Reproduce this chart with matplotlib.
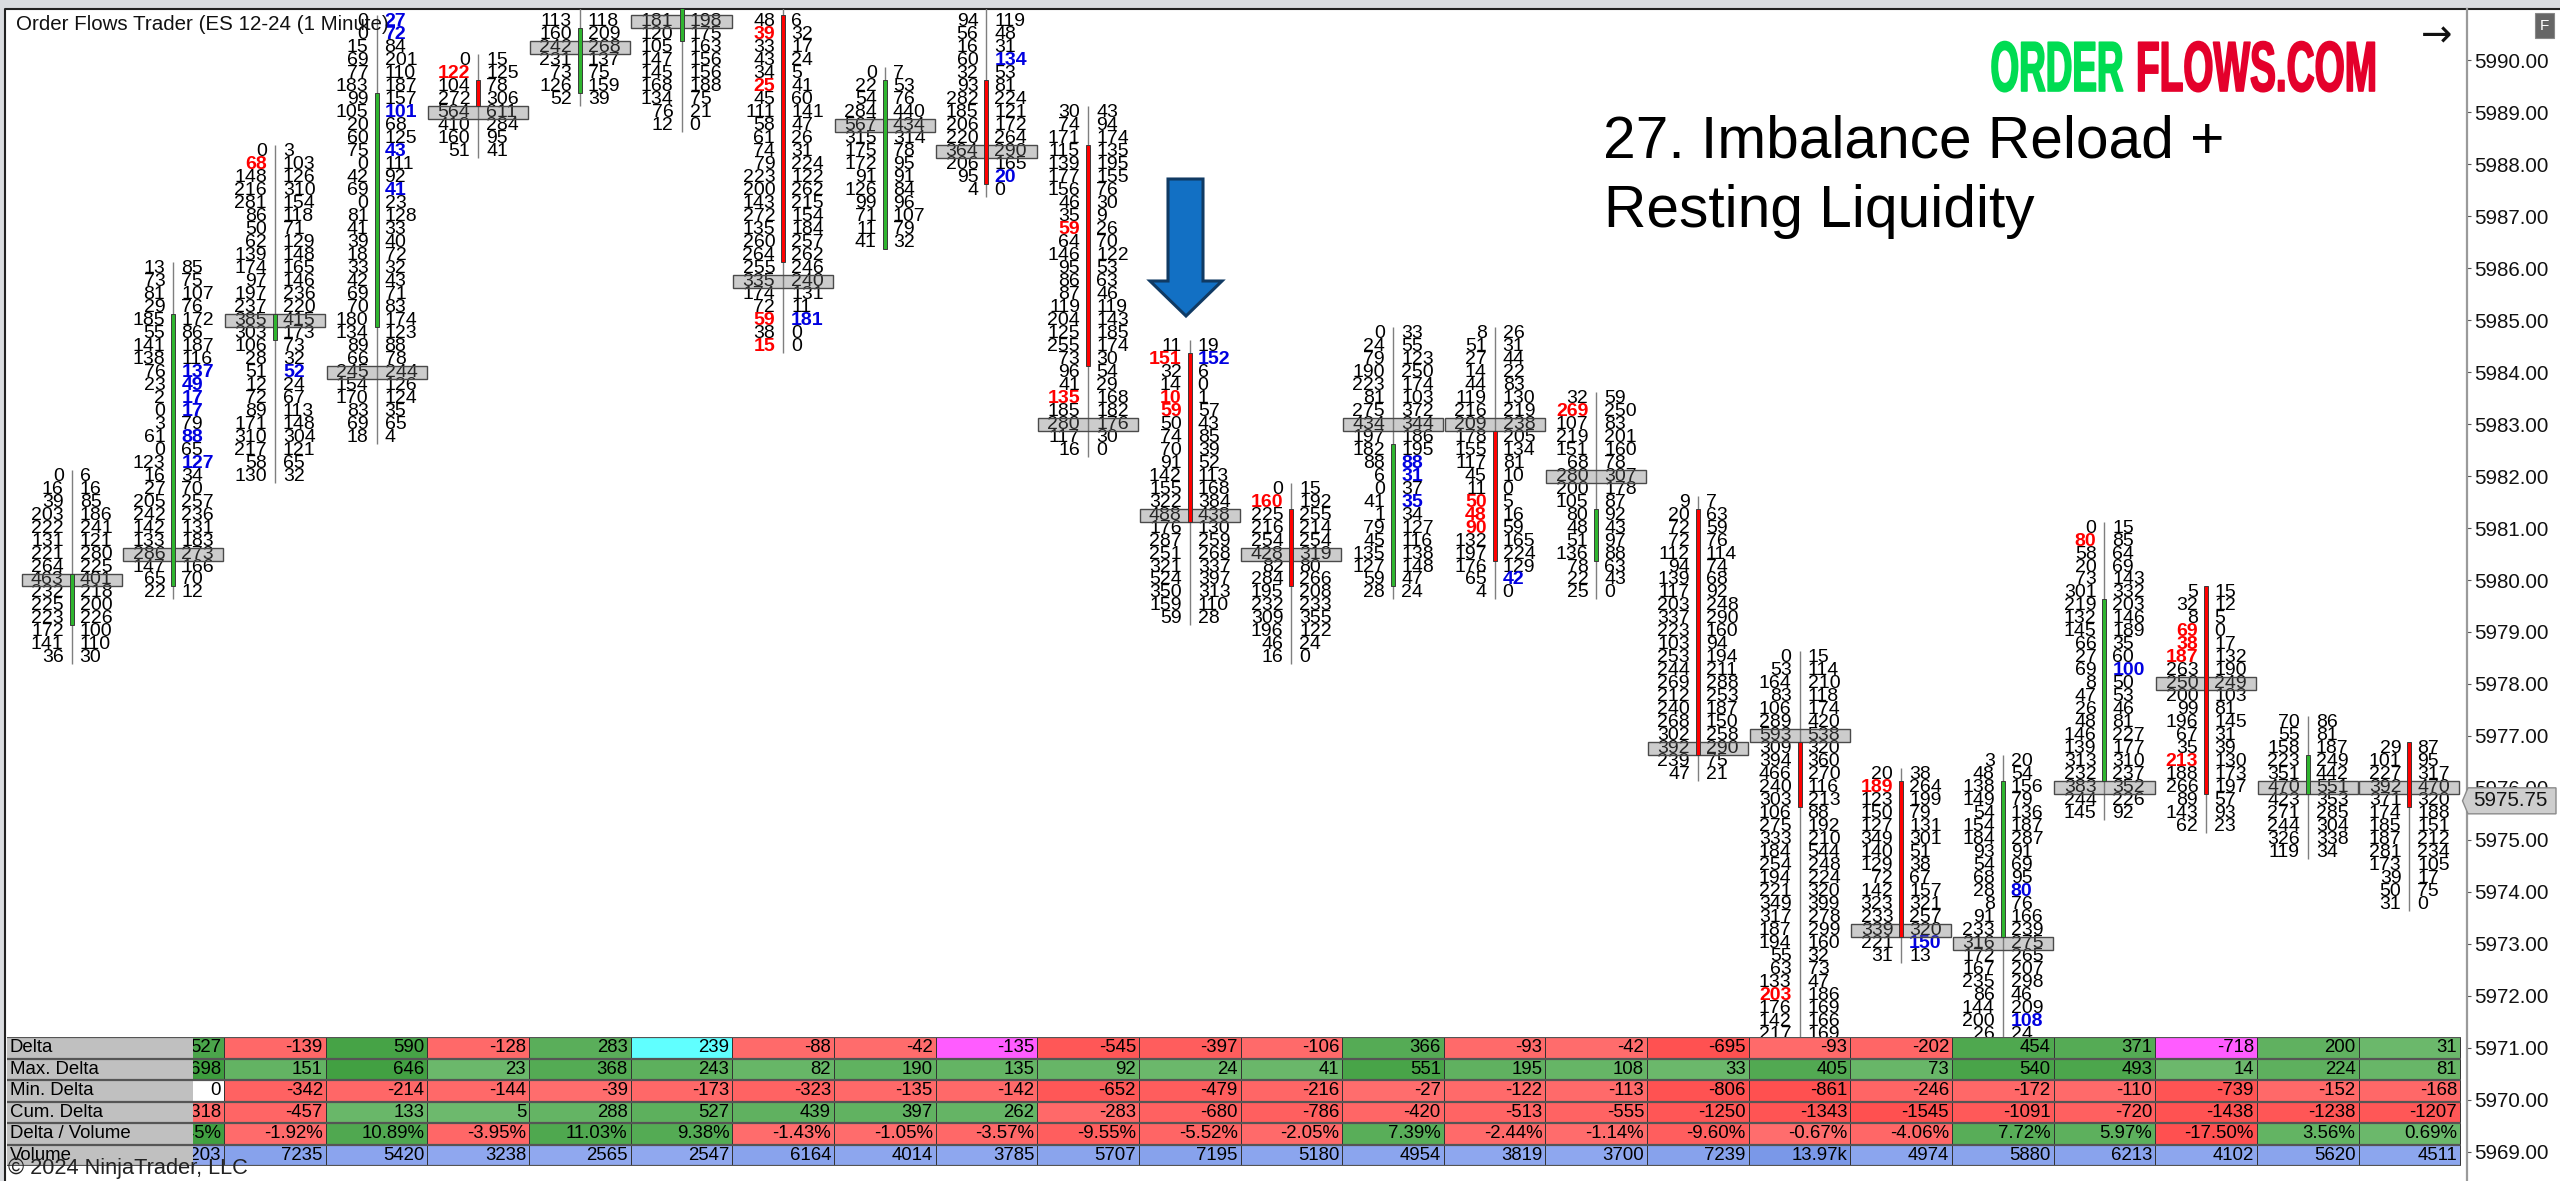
import matplotlib
matplotlib.use("Agg")
from matplotlib import pyplot as plt
from matplotlib import colors as mcolors
from matplotlib.patches import Polygon, Rectangle
from matplotlib.patheffects import AbstractPathEffect
from matplotlib.ticker import StrMethodFormatter
from matplotlib.transforms import Affine2D
import numpy as np

plt.rcParams['font.family'] = ['Liberation Sans', 'DejaVu Sans']

W, H = 2560, 1181

### Footprint data, one list per 1 minute bar, top row first ###

bids = [
    [0, 16, 39, 203, 222, 131, 221, 264, 463, 232, 225, 223, 172, 141, 36],
    [13, 73, 81, 29, 185, 55, 141, 138, 76, 23, 2, 0, 3, 61, 0, 123, 16, 27, 205, 242, 142, 133, 286, 147, 65, 22],
    [0, 68, 148, 216, 281, 86, 50, 62, 139, 174, 97, 197, 237, 385, 303, 106, 28, 51, 12, 72, 89, 171, 310, 217, 58, 130],
    [0, 0, 15, 69, 77, 183, 99, 105, 20, 60, 75, 0, 42, 69, 0, 81, 41, 39, 18, 33, 42, 69, 70, 180, 134, 89, 66, 245, 154, 170, 83, 69, 18],
    [0, 122, 104, 272, 564, 410, 160, 51],
    [113, 160, 242, 231, 73, 126, 52],
    [181, 120, 105, 147, 145, 168, 134, 76, 12],
    [48, 39, 33, 43, 34, 25, 45, 111, 58, 61, 74, 79, 223, 200, 143, 272, 135, 260, 264, 255, 335, 174, 72, 59, 38, 15],
    [0, 22, 54, 284, 567, 315, 175, 172, 91, 126, 99, 71, 11, 41],
    [94, 56, 16, 60, 32, 93, 282, 185, 206, 220, 364, 206, 95, 4],
    [30, 74, 171, 115, 139, 177, 156, 46, 35, 59, 64, 146, 95, 86, 87, 119, 204, 125, 255, 73, 96, 41, 135, 185, 280, 117, 16],
    [11, 151, 32, 14, 10, 59, 50, 74, 70, 91, 142, 155, 322, 488, 176, 287, 251, 321, 524, 350, 159, 59],
    [0, 160, 225, 216, 254, 428, 82, 284, 195, 232, 309, 196, 46, 16],
    [0, 24, 79, 190, 223, 81, 275, 434, 197, 182, 88, 6, 0, 41, 1, 79, 45, 135, 127, 59, 28],
    [8, 51, 27, 14, 44, 119, 216, 209, 178, 155, 117, 45, 11, 50, 48, 90, 132, 197, 176, 65, 4],
    [32, 269, 107, 219, 151, 68, 280, 200, 105, 80, 48, 51, 136, 78, 22, 25],
    [9, 20, 72, 72, 112, 94, 139, 117, 203, 337, 223, 103, 253, 244, 269, 212, 240, 268, 302, 392, 239, 47],
    [0, 53, 164, 83, 106, 289, 593, 309, 394, 466, 240, 303, 106, 275, 333, 184, 254, 194, 221, 349, 317, 187, 194, 55, 63, 133, 203, 176, 142, 217],
    [20, 189, 123, 150, 127, 349, 140, 129, 72, 142, 323, 233, 339, 221, 31],
    [3, 48, 138, 149, 54, 154, 184, 93, 54, 68, 28, 8, 91, 233, 316, 172, 167, 235, 86, 144, 200, 26],
    [0, 80, 58, 20, 73, 301, 219, 132, 145, 66, 27, 69, 8, 47, 26, 48, 146, 139, 313, 232, 383, 244, 145],
    [5, 32, 8, 69, 38, 187, 263, 250, 200, 99, 196, 67, 35, 213, 188, 266, 89, 143, 62],
    [70, 55, 158, 223, 351, 470, 423, 271, 244, 326, 119],
    [29, 101, 227, 392, 371, 174, 185, 187, 281, 173, 39, 50, 31],
]
asks = [
    [6, 16, 85, 186, 241, 121, 280, 225, 401, 218, 200, 226, 100, 110, 30],
    [85, 75, 107, 76, 172, 86, 187, 116, 137, 49, 17, 17, 79, 88, 65, 127, 34, 70, 257, 236, 131, 183, 273, 166, 70, 12],
    [3, 103, 126, 310, 154, 118, 71, 129, 148, 165, 146, 236, 220, 415, 173, 73, 32, 52, 24, 67, 113, 148, 304, 121, 65, 32],
    [27, 72, 84, 201, 110, 187, 157, 101, 68, 125, 43, 111, 92, 41, 23, 128, 33, 40, 72, 32, 43, 71, 83, 174, 123, 88, 78, 244, 126, 124, 35, 65, 4],
    [15, 125, 78, 306, 611, 284, 95, 41],
    [118, 209, 268, 137, 75, 159, 39],
    [198, 175, 163, 156, 156, 188, 75, 21, 0],
    [6, 32, 17, 24, 5, 41, 60, 141, 47, 26, 31, 224, 122, 262, 215, 154, 184, 257, 262, 246, 240, 131, 11, 181, 0, 0],
    [7, 53, 76, 440, 434, 314, 78, 95, 91, 84, 96, 107, 79, 32],
    [119, 48, 31, 134, 53, 81, 224, 121, 172, 264, 290, 165, 20, 0],
    [43, 94, 174, 135, 195, 155, 76, 30, 9, 26, 70, 122, 53, 63, 46, 119, 143, 185, 174, 30, 54, 29, 168, 182, 176, 30, 0],
    [19, 152, 6, 0, 1, 57, 43, 85, 39, 52, 113, 168, 384, 438, 130, 259, 268, 337, 397, 313, 110, 28],
    [15, 192, 255, 214, 254, 319, 80, 266, 208, 233, 355, 122, 24, 0],
    [33, 55, 123, 250, 174, 103, 372, 344, 186, 195, 88, 31, 37, 35, 34, 127, 116, 138, 148, 47, 24],
    [26, 31, 44, 22, 83, 130, 219, 238, 205, 134, 81, 10, 0, 5, 16, 59, 165, 224, 129, 42, 0],
    [59, 250, 83, 201, 160, 78, 307, 178, 87, 92, 43, 97, 88, 63, 43, 0],
    [7, 63, 59, 76, 114, 74, 68, 92, 248, 290, 160, 94, 194, 211, 288, 253, 187, 150, 258, 290, 75, 21],
    [15, 114, 210, 118, 174, 420, 538, 320, 360, 270, 116, 213, 88, 192, 210, 544, 248, 224, 320, 399, 278, 299, 160, 32, 73, 47, 186, 169, 166, 169],
    [38, 264, 199, 79, 131, 301, 51, 38, 67, 157, 321, 257, 320, 150, 13],
    [20, 54, 156, 79, 136, 187, 287, 91, 69, 95, 80, 76, 166, 239, 275, 265, 207, 298, 46, 209, 108, 24],
    [15, 85, 64, 69, 143, 332, 203, 146, 189, 35, 60, 100, 50, 53, 46, 81, 227, 177, 310, 237, 352, 226, 92],
    [15, 12, 5, 0, 17, 132, 190, 249, 103, 81, 145, 31, 39, 130, 173, 197, 57, 93, 23],
    [86, 81, 187, 249, 442, 551, 353, 285, 304, 338, 34],
    [87, 95, 317, 470, 320, 188, 151, 212, 234, 105, 17, 75, 0],
]

# price of the first row of each bar
top_price = [5982.0, 5986.0, 5988.25, 5990.75, 5990.0, 5990.75, 5990.75, 5990.75,
             5989.75, 5990.75, 5989.0, 5984.5, 5981.75, 5984.75, 5984.75, 5983.5,
             5981.5, 5978.5, 5976.25, 5976.5, 5981.0, 5979.75, 5977.25, 5976.75]
poc_price = [5980.0, 5980.5, 5985.0, 5984.0, 5989.0, 5990.25, 5990.75, 5985.75,
             5988.75, 5988.25, 5983.0, 5981.25, 5980.5, 5983.0, 5983.0, 5982.0,
             5976.75, 5977.0, 5973.25, 5973.0, 5976.0, 5978.0, 5976.0, 5976.0]
wick_high = [5982.0, 5986.0, 5988.25, 5990.75, 5990.0, 5991.5, 5991.5, 5991.5,
             5989.75, 5991.5, 5989.0, 5984.5, 5981.75, 5984.75, 5984.75, 5983.5,
             5981.5, 5978.5, 5976.25, 5976.5, 5981.0, 5979.75, 5977.25, 5976.75]
body_high = [5980.0, 5985.0, 5985.0, 5989.25, 5989.5, 5990.5, 5991.5, 5990.75,
             5989.5, 5989.5, 5988.25, 5984.25, 5981.25, 5982.5, 5982.75, 5981.25,
             5981.25, 5976.75, 5976.0, 5976.0, 5979.5, 5979.75, 5976.5, 5976.75]
body_low = [5979.25, 5980.0, 5984.75, 5985.0, 5989.25, 5989.5, 5990.5, 5986.25,
            5986.5, 5987.75, 5984.25, 5981.25, 5980.0, 5980.0, 5980.5, 5980.5,
            5976.75, 5975.75, 5973.25, 5973.25, 5976.25, 5976.0, 5976.0, 5975.75]
body_up = [1, 1, 1, 1, 0, 1, 1, 0, 1, 0, 0, 0, 0, 1, 0, 1, 0, 0, 0, 1, 1, 0, 1, 0]

# imbalance rows, bar number: row numbers
bid_red = {2: [1], 4: [1], 7: [1, 5, 23, 25], 10: [9, 22], 11: [1, 4, 5], 12: [1],
           14: [13, 14, 15], 15: [1], 17: [26], 18: [1], 20: [1], 21: [3, 4, 5, 13]}
ask_blue = {1: [8, 9, 10, 11, 13, 15], 2: [17], 3: [0, 1, 7, 10, 13], 7: [23], 9: [3, 12],
            11: [1], 13: [10, 11, 13], 14: [19], 18: [13], 19: [10, 20], 20: [11]}

### Table under the bars, starts at bar 1 ###

table_labels = ['Delta', 'Max. Delta', 'Min. Delta', 'Cum. Delta', 'Delta / Volume', 'Volume']
delta = [527, -139, 590, -128, 283, 239, -88, -42, -135, -545, -397, -106,
         366, -93, -42, -695, -93, -202, 454, 371, -718, 200, 31]
max_delta = [698, 151, 646, 23, 368, 243, 82, 190, 135, 92, 24, 41,
             551, 195, 108, 33, 405, 73, 540, 493, 14, 224, 81]
min_delta = [0, -342, -214, -144, -39, -173, -323, -135, -142, -652, -479, -216,
             -27, -122, -113, -806, -861, -246, -172, -110, -739, -152, -168]
cum_delta = [-318, -457, 133, 5, 288, 527, 439, 397, 262, -283, -680, -786,
             -420, -513, -555, -1250, -1343, -1545, -1091, -720, -1438, -1238, -1207]
delta_vol = [16.45, -1.92, 10.89, -3.95, 11.03, 9.38, -1.43, -1.05, -3.57, -9.55, -5.52, -2.05,
             7.39, -2.44, -1.14, -9.60, -0.67, -4.06, 7.72, 5.97, -17.50, 3.56, 0.69]
volume = [3203, 7235, 5420, 3238, 2565, 2547, 6164, 4014, 3785, 5707, 7195, 5180,
          4954, 3819, 3700, 7239, 13970, 4974, 5880, 6213, 4102, 5620, 4511]
delta_cyan = [6]
delta_magenta = [9, 21]

price_ticks = np.arange(5969, 5991)
last_price = 5975.75
title_text = 'Order Flows Trader (ES 12-24 (1 Minute)'
heading_lines = ['27. Imbalance Reload +', 'Resting Liquidity']


class Squeeze(AbstractPathEffect):
    # logo font is condensed and heavy, nothing installed like it, so squash the glyphs
    def __init__(self, sx, x0):
        self.sx = sx
        self.x0 = x0

    def draw_path(self, renderer, gc, tpath, affine, rgbFace=None):
        extra = Affine2D().translate(-self.x0, 0).scale(self.sx, 1).translate(self.x0, 0)
        gc0 = renderer.new_gc()
        gc0.copy_properties(gc)
        gc0.set_linewidth(1.2)
        gc0.set_foreground(rgbFace)
        renderer.draw_path(gc0, tpath, affine + extra, rgbFace)
        gc0.restore()


def add_px_axes(fig, left, top, right, bottom, z):
    a = fig.add_axes([left / W, 1 - bottom / H, (right - left) / W, (bottom - top) / H], zorder=z)
    a.patch.set_alpha(0)
    return a


def mix(lo, hi, t):
    lo, hi = np.array(mcolors.to_rgb(lo)), np.array(mcolors.to_rgb(hi))
    return tuple(lo + (hi - lo) * min(t, 1))


def cell_color(v, vmax):
    if v == 0:
        return 'white'
    if v > 0:
        return mix('#6DB96D', '#3E9E3E', v / vmax)
    return mix('#FF6E6E', '#FF5050', -v / vmax)


fig = plt.figure(figsize=(W / 100, H / 100), dpi=100, facecolor='white')

# px position of things on the screenshot
px_per_bar = 101.64
bar0_px = 71.7
price_px = 51.96
p5990_px = 60.4
ax_left, ax_right, ax_top, ax_bottom = 7, 2467, 9, 1181


def x_lim(left, right):
    return (left - bar0_px) / px_per_bar, (right - bar0_px) / px_per_bar


### Window chrome ###
ax_bg = add_px_axes(fig, 0, 0, W, H, 0)
ax_bg.set_xlim(0, W)
ax_bg.set_ylim(H, 0)
ax_bg.axis('off')
ax_bg.add_patch(Rectangle((0, 0), W, 8, fc='#DADCE0', ec='none'))
ax_bg.add_patch(Rectangle((0, 0), 4.5, H, fc='#DADCE0', ec='none'))
ax_bg.plot([5.2, 5.2, W], [H, 8.6, 8.6], color='#222222', lw=1.5)

### Footprint bars ###
ax = add_px_axes(fig, ax_left, ax_top, ax_right, ax_bottom, 2)
ax.set_xlim(*x_lim(ax_left, ax_right))
ax.set_ylim(5990 - (ax_bottom - p5990_px) / price_px, 5990 + (p5990_px - ax_top) / price_px)
for side in ['top', 'left', 'bottom']:
    ax.spines[side].set_visible(False)
ax.spines['right'].set_color('#9A9A9A')
ax.spines['right'].set_linewidth(1.6)
ax.set_xticks([])
ax.yaxis.tick_right()
ax.set_yticks(price_ticks)
ax.yaxis.set_major_formatter(StrMethodFormatter('{x:.2f}'))
ax.tick_params(axis='y', length=3, width=0.8, color='#555555', pad=2.5, labelsize=14.8, labelcolor='#111111')

gap = 8 / px_per_bar
row = 0.25
for i in range(len(bids)):
    prices = top_price[i] - row * np.arange(len(bids[i]))
    ax.vlines(i, prices[-1] - row / 2, wick_high[i] + row / 2, color='#7F7F7F', lw=1.0, zorder=2)
    for j, p in enumerate(prices):
        hot = j in bid_red.get(i, [])
        ax.text(i - gap, p, str(bids[i][j]), ha='right', va='center', fontsize=14,
                color='#FF0000' if hot else '#000000', fontweight='bold' if hot else 'normal', zorder=3)
        hot = j in ask_blue.get(i, [])
        ax.text(i + gap, p, str(asks[i][j]), ha='left', va='center', fontsize=14,
                color='#0000E0' if hot else '#000000', fontweight='bold' if hot else 'normal', zorder=3)

x_bars = np.arange(len(bids))
ax.barh(poc_price, 0.985, left=x_bars - 0.4925, height=row, facecolor=(0.43, 0.43, 0.43, 0.35),
        edgecolor='#4A4A4A', linewidth=1.0, zorder=4)
low = np.array(body_low) - row / 2
high = np.array(body_high) + row / 2
ax.bar(x_bars, high - low, bottom=low, width=4 / px_per_bar,
       color=['#2FB52F' if up else '#FF0000' for up in body_up], edgecolor='#3A3A3A', linewidth=0.7, zorder=5)

### Table ###
ax_tbl = add_px_axes(fig, ax_left, 1037, ax_right - 6, 1166, 3)
ax_tbl.set_xlim(*x_lim(ax_left, ax_right - 6))
ax_tbl.set_ylim(6, 0)
ax_tbl.axis('off')

table_rows = [delta, max_delta, min_delta, cum_delta, delta_vol, volume]
for r, values in enumerate(table_rows):
    vmax = max(abs(v) for v in values)
    for k, v in enumerate(values):
        bar = k + 1
        if r == 5:
            fc = mix('#95ACF1', '#7A98E8', v / vmax)
            txt = '13.97k' if v >= 10000 else str(v)
        else:
            fc = cell_color(v, vmax)
            txt = '{:.2f}%'.format(v) if r == 4 else str(v)
        if r == 0 and bar in delta_cyan:
            fc = '#60FFFF'
        if r == 0 and bar in delta_magenta:
            fc = '#FF5CFF'
        ax_tbl.add_patch(Rectangle((bar - 0.5, r), 1, 1, fc=fc, ec='#333333', lw=0.7, zorder=1))
        ax_tbl.text(bar + 0.5 - 3 / px_per_bar, r + 0.5, txt, ha='right', va='center',
                    fontsize=13.4, color='#000000', zorder=2)

lbl_x0, lbl_x1 = x_lim(7, 192.6)
for r, name in enumerate(table_labels):
    ax_tbl.add_patch(Rectangle((lbl_x0, r), lbl_x1 - lbl_x0, 1, fc='#C0C0C0', ec='none', zorder=3))
    ax_tbl.text(lbl_x0 + 3 / px_per_bar, r + 0.5, name, ha='left', va='center',
                fontsize=13.4, color='#000000', zorder=4)
x_tbl = x_lim(7, 2461)
ax_tbl.hlines(np.arange(0, 7), x_tbl[0], x_tbl[1], color='#555555', lw=1.6, zorder=5)

### Drawings on top, in screen px ###
ax_fg = add_px_axes(fig, 0, 0, W, H, 4)
ax_fg.set_xlim(0, W)
ax_fg.set_ylim(H, 0)
ax_fg.axis('off')

ax_fg.text(16, 25, title_text, ha='left', va='center', fontsize=14.8, color='#111111')
ax_fg.text(1603, 157, heading_lines[0], ha='left', va='baseline', fontsize=42.2, color='#000000')
ax_fg.text(1604, 227, heading_lines[1], ha='left', va='baseline', fontsize=42.2, color='#000000')
ax_fg.text(1990.5, 91, 'ORDER', ha='left', va='baseline', fontsize=51, fontweight='bold', color='#00DC52',
           path_effects=[Squeeze(0.52, 1990.5)])
ax_fg.text(2136, 91, 'FLOWS.COM', ha='left', va='baseline', fontsize=51, fontweight='bold', color='#E4002B',
           path_effects=[Squeeze(0.547, 2136)])
ax_fg.text(8, 1168, '\u00a9 2024 NinjaTrader, LLC', ha='left', va='center', fontsize=15.7, color='#222222')

# entry arrow
ax_fg.add_patch(Polygon([(1168, 179), (1203, 179), (1203, 281), (1222, 281), (1186, 316), (1150, 281), (1168, 281)],
                        closed=True, fc='#1270C4', ec='#103A63', lw=2.2, joinstyle='miter'))
ax_fg.text(2437, 36, '\u2192', ha='center', va='center', fontsize=27, color='#111111', family='DejaVu Sans')

# F button on the scale
ax_fg.add_patch(Rectangle((2534.5, 13), 19, 25, fc='#666666', ec='#888888', lw=0.8))
ax_fg.text(2544, 25.5, 'F', ha='center', va='center', fontsize=11, color='white')

# last price marker
y_last = p5990_px + (5990 - last_price) * price_px
ax_fg.add_patch(Polygon([(2462.5, y_last), (2468, y_last - 13), (2556, y_last - 13), (2556, y_last + 13), (2468, y_last + 13)],
                        closed=True, fc='#CECECE', ec='#8A8A8A', lw=1.0))
ax_fg.text(2473, y_last, '{:.2f}'.format(last_price), ha='left', va='center', fontsize=14.8, color='#111111')

plt.savefig('out.png', dpi=100, facecolor='white')
